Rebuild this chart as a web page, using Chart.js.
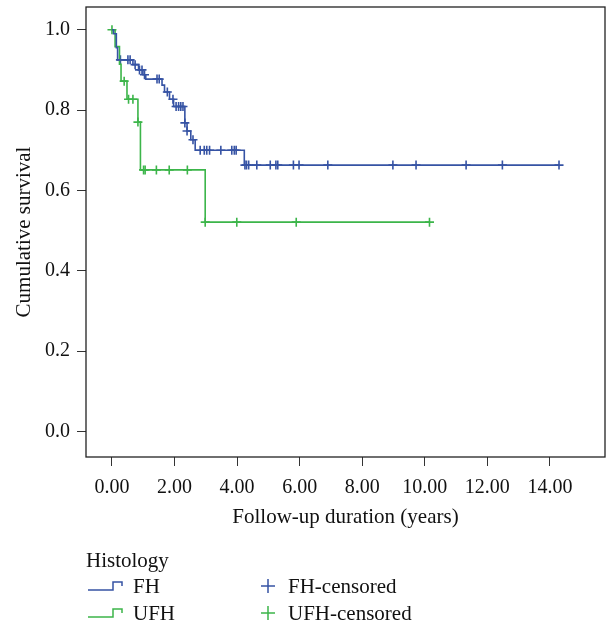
<!DOCTYPE html>
<html>
<head>
<meta charset="utf-8">
<script src="https://cdn.jsdelivr.net/npm/chart.js@4.4.1/dist/chart.umd.min.js"></script>
<style>
  body { margin: 0; background: #fff; }
  canvas { display: block; }
</style>
</head>
<body>
<canvas id="km" width="606" height="624"></canvas>
<script>
// Kaplan-Meier steps (time in years, cumulative survival)
const fhTimes = [0, 0.05, 0.14, 0.18, 0.67, 0.85, 0.99, 1.08, 1.60, 1.68, 1.84, 1.97, 2.33, 2.40, 2.52, 2.66, 4.23, 14.29];
const fhSurv  = [1.0, 0.99, 0.955, 0.925, 0.913, 0.90, 0.888, 0.877, 0.862, 0.845, 0.827, 0.809, 0.768, 0.748, 0.726, 0.70, 0.663, 0.663];

const ufhTimes = [0, 0.10, 0.24, 0.29, 0.48, 0.83, 0.91, 2.98, 10.15];
const ufhSurv  = [1.0, 0.958, 0.914, 0.872, 0.827, 0.770, 0.651, 0.521, 0.521];

// censored cases
const fhCensTimes = [0.27, 0.51, 0.58, 0.74, 0.88, 0.96, 1.04, 1.44, 1.51, 1.77, 1.95, 2.05, 2.13, 2.20, 2.27, 2.33, 2.40, 2.59,
  2.82, 2.95, 3.03, 3.12, 3.48, 3.83, 3.91, 3.97, 4.25, 4.30, 4.37, 4.63, 5.06, 5.24, 5.30, 5.80, 5.98, 6.90, 8.98, 9.72, 11.32, 12.48, 14.29];
const fhCensSurv = [0.925, 0.925, 0.925, 0.913, 0.90, 0.90, 0.888, 0.877, 0.877, 0.845, 0.827, 0.809, 0.809, 0.809, 0.809, 0.768, 0.748, 0.726,
  0.70, 0.70, 0.70, 0.70, 0.70, 0.70, 0.70, 0.70, 0.663, 0.663, 0.663, 0.663, 0.663, 0.663, 0.663, 0.663, 0.663, 0.663, 0.663, 0.663, 0.663, 0.663, 0.663];

const ufhCensTimes = [0.0, 0.39, 0.53, 0.67, 0.83, 1.01, 1.06, 1.42, 1.83, 2.41, 2.98, 3.99, 5.89, 10.15];
const ufhCensSurv  = [1.0, 0.872, 0.827, 0.827, 0.770, 0.651, 0.651, 0.651, 0.651, 0.651, 0.521, 0.521, 0.521, 0.521];

const xTicks = [0, 2, 4, 6, 8, 10, 12, 14];
const yTicks = [0, 0.2, 0.4, 0.6, 0.8, 1.0];

const groups = ["FH", "UFH"];
const BLUE = "#3653a4";
const GREEN = "#3cb54a";
const FONT = "'Liberation Serif', 'DejaVu Serif', serif";

const toPts = (xs, ys) => xs.map((x, i) => ({ x: x, y: ys[i] }));

// box around the plot + the legend underneath
const frameAndLegend = {
    id: "frameAndLegend",
    afterDraw(chart) {
        const ctx = chart.ctx;
        const a = chart.chartArea;
        ctx.save();
        ctx.strokeStyle = "#222";
        ctx.lineWidth = 1.3;
        ctx.strokeRect(a.left, a.top, a.right - a.left, a.bottom - a.top);

        ctx.font = "21px " + FONT;
        ctx.fillStyle = "#111";
        ctx.textBaseline = "alphabetic";
        ctx.fillText("Histology", 86, 567);

        const rows = [
            { name: groups[0], color: BLUE, y: 590 },
            { name: groups[1], color: GREEN, y: 617 },
        ];
        rows.forEach((r) => {
            // step symbol
            ctx.strokeStyle = r.color;
            ctx.lineWidth = 1.5;
            ctx.beginPath();
            ctx.moveTo(88, r.y);
            ctx.lineTo(113, r.y);
            ctx.lineTo(113, r.y - 8);
            ctx.lineTo(122, r.y - 8);
            ctx.lineTo(122, r.y - 4);
            ctx.stroke();
            ctx.fillStyle = "#111";
            ctx.fillText(r.name, 133, r.y + 3);

            // censor symbol
            const cx = 268, cy = r.y - 4;
            ctx.beginPath();
            ctx.moveTo(cx - 7, cy);
            ctx.lineTo(cx + 7, cy);
            ctx.moveTo(cx, cy - 7);
            ctx.lineTo(cx, cy + 7);
            ctx.stroke();
            ctx.fillText(r.name + "-censored", 288, r.y + 3);
        });
        ctx.restore();
    },
};

new Chart(document.getElementById("km"), {
    type: "line",
    data: {
        datasets: [
            {
                label: "FH",
                data: toPts(fhTimes, fhSurv),
                stepped: "before",
                borderColor: BLUE,
                borderWidth: 1.6,
                pointRadius: 0,
                fill: false,
            },
            {
                label: "UFH",
                data: toPts(ufhTimes, ufhSurv),
                stepped: "before",
                borderColor: GREEN,
                borderWidth: 1.6,
                pointRadius: 0,
                fill: false,
            },
            {
                label: "FH-censored",
                data: toPts(fhCensTimes, fhCensSurv),
                showLine: false,
                pointStyle: "cross",
                pointRadius: 4.5,
                pointBorderWidth: 1.6,
                borderColor: BLUE,
            },
            {
                label: "UFH-censored",
                data: toPts(ufhCensTimes, ufhCensSurv),
                showLine: false,
                pointStyle: "cross",
                pointRadius: 4.5,
                pointBorderWidth: 1.6,
                borderColor: GREEN,
            },
        ],
    },
    options: {
        responsive: false,
        animation: false,
        layout: { autoPadding: false, padding: { left: 0, top: 7, right: 1, bottom: 90 } },
        plugins: {
            legend: { display: false },
            tooltip: { enabled: false },
        },
        scales: {
            x: {
                type: "linear",
                min: -0.83,
                max: 15.76,
                afterBuildTicks: (s) => { s.ticks = xTicks.map((v) => ({ value: v })); },
                afterFit: (s) => { s.height = 77; s.paddingLeft = 0; s.paddingRight = 0; },
                ticks: {
                    callback: (v) => v.toFixed(2),
                    color: "#111",
                    font: { family: FONT, size: 20 },
                    padding: 10,
                    maxRotation: 0,
                },
                grid: { drawOnChartArea: false, tickLength: 9, color: "#333" },
                border: { display: false },
                title: {
                    display: true,
                    text: "Follow-up duration (years)",
                    color: "#111",
                    font: { family: FONT, size: 21 },
                    padding: { top: 4, bottom: 4 },
                },
            },
            y: {
                min: -0.0635,
                max: 1.0565,
                afterBuildTicks: (s) => { s.ticks = yTicks.map((v) => ({ value: v })); },
                afterFit: (s) => { s.width = 86; s.paddingTop = 0; s.paddingBottom = 0; },
                ticks: {
                    callback: (v) => v.toFixed(1),
                    color: "#111",
                    font: { family: FONT, size: 20 },
                    padding: 7,
                },
                grid: { drawOnChartArea: false, tickLength: 9, color: "#333" },
                border: { display: false },
                title: {
                    display: true,
                    text: "Cumulative survival",
                    color: "#111",
                    font: { family: FONT, size: 21 },
                    padding: { top: 12, bottom: 4 },
                },
            },
        },
    },
    plugins: [frameAndLegend],
});
</script>
</body>
</html>
